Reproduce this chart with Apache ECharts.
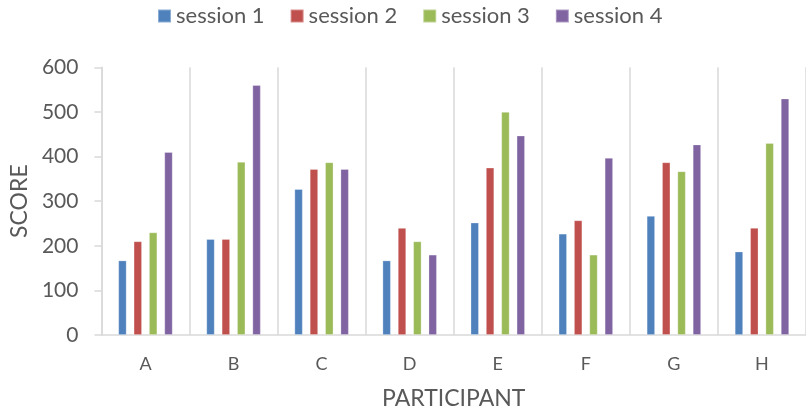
<!DOCTYPE html>
<html>
<head>
<meta charset="utf-8">
<script src="https://cdn.jsdelivr.net/npm/echarts@6/dist/echarts.min.js"></script>
<style>
  html, body { margin: 0; padding: 0; background: #ffffff; }
  #chart { width: 806px; height: 415px; }
</style>
</head>
<body>
<div id="chart"></div>
<script>
// Scores per participant, one array per session
const participants = ['A', 'B', 'C', 'D', 'E', 'F', 'G', 'H'];
const seriesNames = ['session 1', 'session 2', 'session 3', 'session 4'];
const session1 = [167, 215, 327, 167, 252, 227, 267, 187];
const session2 = [210, 215, 372, 240, 375, 257, 387, 240];
const session3 = [230, 388, 387, 210, 500, 180, 367, 430];
const session4 = [410, 560, 372, 180, 447, 397, 427, 530];
const yTicks = [0, 100, 200, 300, 400, 500, 600];

const colors = ['#4F81BD', '#C0504D', '#9BBB59', '#8064A2'];
const sessions = [session1, session2, session3, session4];
const textGray = '#595959';
const lineGray = '#d9d9d9';
const font = 'Lato';

const chart = echarts.init(document.getElementById('chart'), null, { renderer: 'canvas' });

chart.setOption({
  animation: false,
  color: colors,
  textStyle: { fontFamily: font },
  legend: {
    top: 0,
    left: 152,
    itemWidth: 13,
    itemHeight: 13,
    itemGap: 25,
    icon: 'rect',
    textStyle: { color: textGray, fontSize: 22, fontFamily: font },
    data: seriesNames
  },
  // plot area runs slightly past the right edge of the canvas
  grid: { left: 97.5, right: -2.5, top: 67.3, bottom: 76.7, containLabel: false },
  xAxis: {
    type: 'category',
    data: participants,
    name: 'PARTICIPANT',
    nameLocation: 'middle',
    nameGap: 52,
    nameTextStyle: { color: textGray, fontSize: 23, fontFamily: font },
    axisLine: { show: true, lineStyle: { color: lineGray, width: 1.5 } },
    axisTick: { show: false },
    axisLabel: { color: textGray, fontSize: 18, margin: 20, fontFamily: font },
    splitLine: { show: true, lineStyle: { color: lineGray, width: 1.5 } }
  },
  yAxis: {
    type: 'value',
    min: yTicks[0],
    max: yTicks[yTicks.length - 1],
    interval: yTicks[1] - yTicks[0],
    name: 'SCORE',
    nameLocation: 'middle',
    nameGap: 69,
    nameRotate: 90,
    nameTextStyle: { color: textGray, fontSize: 23, fontFamily: font },
    axisLine: { show: true, lineStyle: { color: lineGray, width: 1.5 } },
    axisTick: { show: true, length: 7, lineStyle: { color: lineGray, width: 1.5 } },
    axisLabel: { color: textGray, fontSize: 21, margin: 23, fontFamily: font },
    splitLine: { show: false }
  },
  series: sessions.map((values, i) => ({
    name: seriesNames[i],
    type: 'bar',
    data: values,
    barWidth: 8.3,
    barGap: '85%',
    itemStyle: {
      color: colors[i],
      borderColor: 'rgba(255,255,255,0.35)',
      borderWidth: 0.8
    }
  }))
});
</script>
</body>
</html>
